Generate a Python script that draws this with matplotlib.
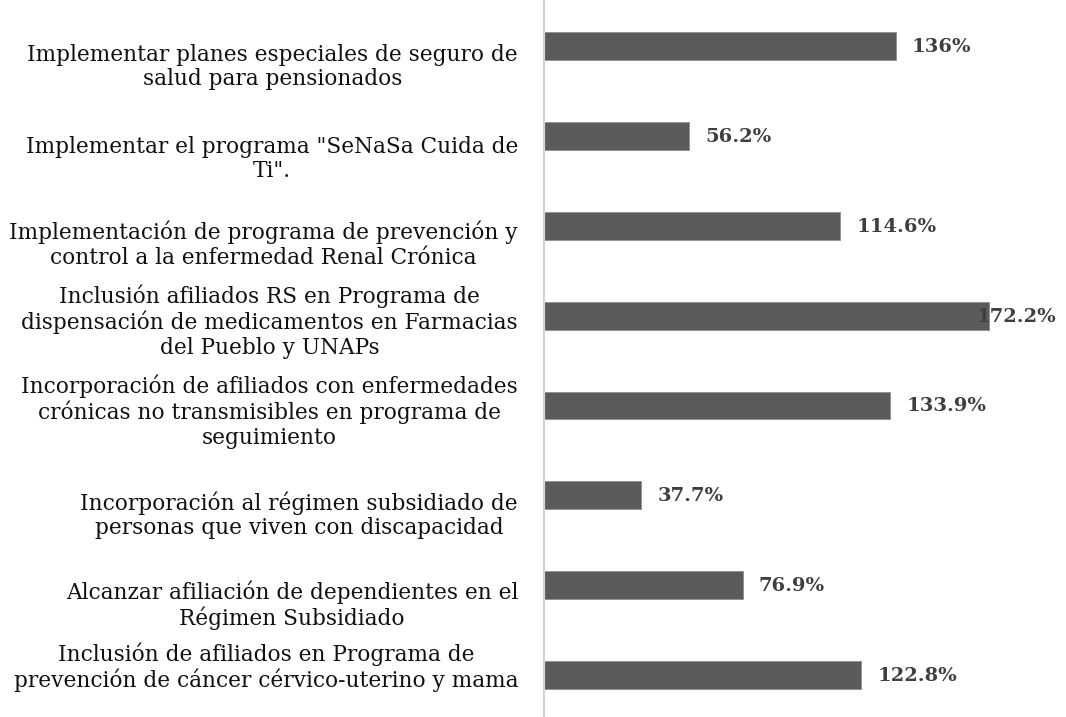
import matplotlib.pyplot as plt

categorias = [
    "Implementar planes especiales de seguro de\nsalud para pensionados",
    "Implementar el programa \"SeNaSa Cuida de\nTi\".",
    "Implementación de programa de prevención y\ncontrol a la enfermedad Renal Crónica",
    "Inclusión afiliados RS en Programa de\ndispensación de medicamentos en Farmacias\ndel Pueblo y UNAPs",
    "Incorporación de afiliados con enfermedades\ncrónicas no transmisibles en programa de\nseguimiento",
    "Incorporación al régimen subsidiado de\npersonas que viven con discapacidad",
    "Alcanzar afiliación de dependientes en el\nRégimen Subsidiado",
    "Inclusión de afiliados en Programa de\nprevención de cáncer cérvico-uterino y mama",
]
valores = [136.0, 56.2, 114.6, 172.2, 133.9, 37.7, 76.9, 122.8]
etiquetas = ["136%", "56.2%", "114.6%", "172.2%", "133.9%", "37.7%", "76.9%", "122.8%"]

# desplazamiento vertical (pixeles) de cada bloque de texto respecto a su barra
desp_texto = [-21, -23, -19, -6, -6, -20, -20, 8]

fig = plt.figure(figsize=(10.66, 7.17), dpi=100)
ax = fig.add_axes([544 / 1066, 0, 1 - 544 / 1066, 1])

y = list(range(len(valores)))
ax.barh(y, valores, height=0.31, color="#5b5b5b", edgecolor="#8f8f8f", linewidth=0.6)

ax.set_xlim(0, 201.9)
ax.set_ylim(7.467, -0.512)

for s in ["top", "right", "bottom"]:
    ax.spines[s].set_visible(False)
ax.spines["left"].set_color("#d4d4d4")
ax.spines["left"].set_linewidth(1.6)
ax.set_xticks([])
ax.set_yticks([])

# categorias a la izquierda del eje
for i, txt in enumerate(categorias):
    ax.annotate(txt, xy=(0, i), xycoords=("axes fraction", "data"),
                xytext=(-26, desp_texto[i]), textcoords="offset pixels",
                ha="right", va="center", multialignment="center",
                fontsize=15.6, family="DejaVu Serif", color="#111111",
                linespacing=1.15, annotation_clip=False)

# etiquetas de valor
for i, v in enumerate(valores):
    dx = 16 if v < 160 else -13
    ax.annotate(etiquetas[i], xy=(v, i), xytext=(dx, -1), textcoords="offset pixels",
                ha="left", va="center", fontsize=14, family="DejaVu Serif",
                fontweight="bold", color="#3f3f3f", annotation_clip=False)

fig.savefig("out.png", dpi=100)
